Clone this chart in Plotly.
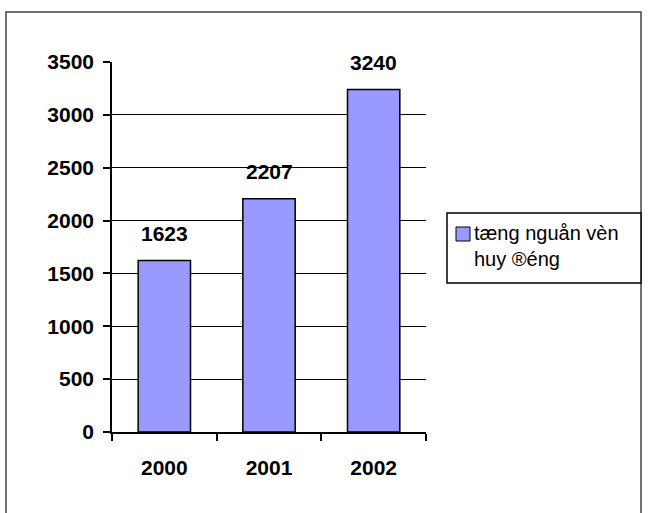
import plotly.graph_objects as go

years = ["2000", "2001", "2002"]
values = [1623, 2207, 3240]
series_name = "tæng nguån vèn<br>huy ®éng"

FONT = "Arial, Liberation Sans, sans-serif"
BAR_COLOR = "#9999FF"

fig = go.Figure()
fig.add_trace(go.Bar(
    x=years, y=values, name=series_name,
    marker=dict(color=BAR_COLOR, line=dict(color="black", width=1.5)),
    showlegend=False,
))

# data labels (category index positions on the category axis)
for i, v in enumerate(values):
    fig.add_annotation(x=i, y=v, xref="x", yref="y", text=f"<b>{v}</b>",
                       showarrow=False, yanchor="middle", yshift=27,
                       font=dict(family=FONT, size=21, color="black"))

W, H = 648, 513
L, R, T, B = 112, 222, 62, 81
pw, ph = W - L - R, H - T - B

def px(x):
    return (x - L) / pw

def py(y):
    return (H - B - y) / ph

# outer chart border
fig.add_shape(type="rect", xref="paper", yref="paper",
              x0=px(6), x1=px(641), y0=py(520), y1=py(12),
              line=dict(color="#444444", width=1.5), layer="below")

# custom legend box
fig.add_shape(type="rect", xref="paper", yref="paper",
              x0=px(447), x1=px(641), y0=py(283), y1=py(213),
              line=dict(color="black", width=1.5), fillcolor="white")
fig.add_shape(type="rect", xref="paper", yref="paper",
              x0=px(456), x1=px(470), y0=py(241), y1=py(227),
              line=dict(color="black", width=1), fillcolor=BAR_COLOR)
fig.add_annotation(xref="paper", yref="paper", x=px(472), y=py(246),
                   xanchor="left", yanchor="middle", align="left",
                   text=series_name, showarrow=False,
                   font=dict(family=FONT, size=20, color="black"))

fig.update_layout(
    width=W, height=H,
    margin=dict(l=L, r=R, t=T, b=B, pad=0),
    paper_bgcolor="white", plot_bgcolor="white",
    font=dict(family=FONT, color="black"),
    bargap=0.5,
    showlegend=False,
    xaxis=dict(type="category", range=[-0.5, 2.5], showline=True, linecolor="black",
               linewidth=1.5, ticks="outside", tickson="boundaries", ticklen=7,
               tickcolor="black", tickwidth=1.5, showgrid=False, tickangle=0,
               tickfont=dict(family=FONT, size=21, color="black", weight="bold"),
               ticklabelstandoff=16),
    yaxis=dict(range=[0, 3500], dtick=500, showline=True, linecolor="black",
               linewidth=1.5, ticks="outside", ticklen=7, tickcolor="black",
               tickwidth=1.5, showgrid=True, gridcolor="black", gridwidth=1.2,
               zeroline=False,
               tickfont=dict(family=FONT, size=21, color="black", weight="bold"),
               ticklabelstandoff=5),
)

fig.write_html("out.html")
